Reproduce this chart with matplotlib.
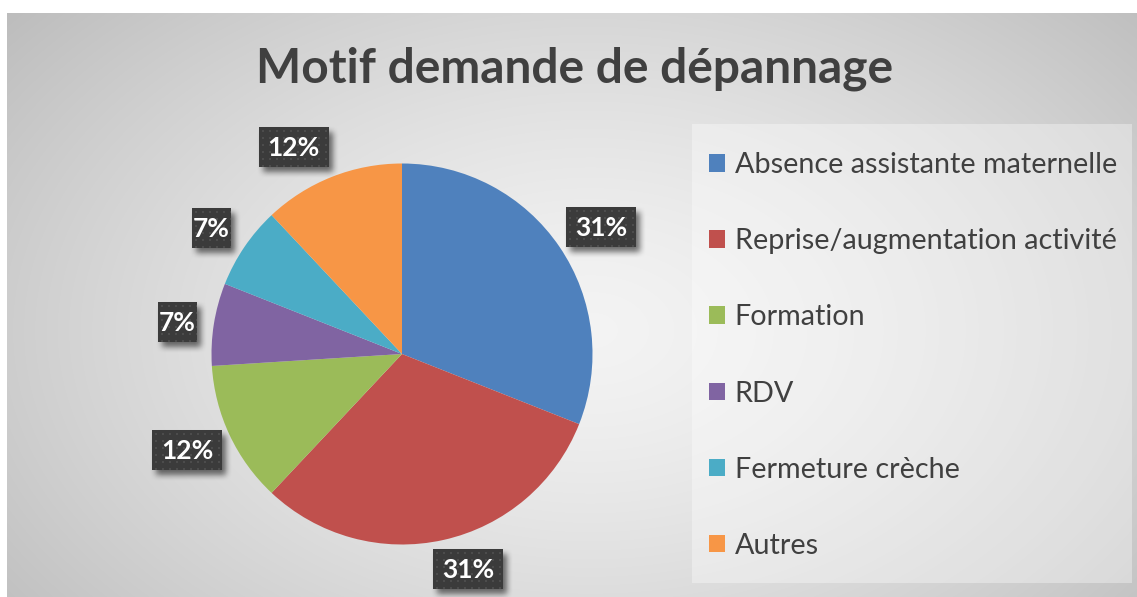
import numpy as np
import matplotlib
matplotlib.use("Agg")
import matplotlib.pyplot as plt
from matplotlib.patches import Rectangle

# Data
categories = ["Absence assistante maternelle", "Reprise/augmentation activité",
              "Formation", "RDV", "Fermeture crèche", "Autres"]
values = [31, 31, 12, 7, 7, 12]
colors = ["#4f81bd", "#c0504d", "#9bbb59", "#8064a2", "#4bacc6", "#f79646"]
title = "Motif demande de dépannage"

W, H = 1137, 597
DPI = 100
plt.rcParams["font.family"] = ["Lato", "DejaVu Sans"]
TEXT = "#404040"

fig = plt.figure(figsize=(W / DPI, H / DPI), dpi=DPI)
fig.patch.set_facecolor("white")

# Background: chart area with a soft radial gradient
bg = fig.add_axes([0, 0, 1, 1])
bg.set_xlim(0, W)
bg.set_ylim(H, 0)
bg.axis("off")
x0, y0 = 7, 13
yy, xx = np.mgrid[0:H, 0:W]
d = np.sqrt(((xx - 590) / 640.0) ** 2 + ((yy - 330) / 420.0) ** 2)
g = 0.955 - 0.17 * np.clip(d, 0, 1.2) ** 1.4
img = np.dstack([g, g, g])
img[:y0, :, :] = 1.0
img[:, :x0, :] = 1.0
bg.imshow(img, extent=(0, W, H, 0), interpolation="bilinear", zorder=0)
bg.set_xlim(0, W)
bg.set_ylim(H, 0)

# Pie
cx, cy, r_px = 402, 354, 190.5
box = 440
pax = fig.add_axes([(cx - box / 2) / W, (H - cy - box / 2) / H, box / W, box / H])
R = r_px / (box / 2)
wedges, _ = pax.pie(values, colors=colors, startangle=90, counterclock=False,
                    radius=R, wedgeprops=dict(linewidth=0))
pax.set_xlim(-1, 1)
pax.set_ylim(-1, 1)
pax.set_aspect("equal")
pax.axis("off")

# Overlay in pixel coordinates
ov = fig.add_axes([0, 0, 1, 1], zorder=5)
ov.set_xlim(0, W)
ov.set_ylim(H, 0)
ov.axis("off")
ov.patch.set_alpha(0)

# Legend panel
ov.add_patch(Rectangle((692, 124), 440, 459, facecolor="white", alpha=0.35,
                       linewidth=0, zorder=1))

# Title
ov.text(575, 69, title, ha="center", va="center", fontsize=34.5,
        fontweight="bold", color=TEXT, zorder=3)

# Dotted dark pattern for the data-label boxes
def pattern(wp, hp):
    p = np.full((hp, wp, 3), 0.235)
    for j in range(3, hp, 7):
        for i in range(3, wp, 7):
            p[j:j + 2, i:i + 2, :] = 0.30
    return p

def shadow(x, y, w, h):
    pad = 12
    sw, sh = w + 2 * pad, h + 2 * pad
    a = np.zeros((sh, sw))
    a[pad:pad + h, pad:pad + w] = 1.0
    k = 7
    for _ in range(2):
        a = np.apply_along_axis(lambda v: np.convolve(v, np.ones(k) / k, "same"), 0, a)
        a = np.apply_along_axis(lambda v: np.convolve(v, np.ones(k) / k, "same"), 1, a)
    rgba = np.zeros((sh, sw, 4))
    rgba[..., 3] = a * 0.55
    ox, oy = 4, 5
    ov.imshow(rgba, extent=(x - pad + ox, x - pad + ox + sw, y - pad + oy + sh, y - pad + oy),
              interpolation="bilinear", zorder=3)

# Radial distance (in radii) and angular nudge (deg) for each data label
label_dist = [1.24, 1.18, 1.235, 1.19, 1.2, 1.225]
label_nudge = [-1.7, 4.4, -1.1, 0.9, 0.8, 6.1]
for wdg, v, f, dn in zip(wedges, values, label_dist, label_nudge):
    mid = np.deg2rad((wdg.theta1 + wdg.theta2) / 2 + dn)
    px, py = pax.transData.transform((f * R * np.cos(mid), f * R * np.sin(mid)))
    py = H - py
    txt = f"{v}%"
    w = 70 if len(txt) == 3 else 39
    h = 40
    bx, by = int(round(px - w / 2)), int(round(py - h / 2))
    shadow(bx, by, w, h)
    ov.imshow(pattern(w, h), extent=(bx, bx + w, by + h, by), interpolation="nearest", zorder=4)
    ov.text(px, py + 1, txt, ha="center", va="center", color="white",
            fontsize=19, fontweight="bold", zorder=6)
ov.set_xlim(0, W)
ov.set_ylim(H, 0)

# Legend
handles = [Rectangle((0, 0), 1, 1, facecolor=c, linewidth=0) for c in colors]
leg = ov.legend(handles, categories, loc="upper left",
                bbox_to_anchor=(709 / W, 1 - 152 / H), bbox_transform=fig.transFigure,
                frameon=False, fontsize=20.7, labelcolor=TEXT,
                handlelength=0.56, handleheight=0.56, handletextpad=0.33,
                labelspacing=1.745, borderpad=0, borderaxespad=0)

fig.savefig("out.png", dpi=DPI)
